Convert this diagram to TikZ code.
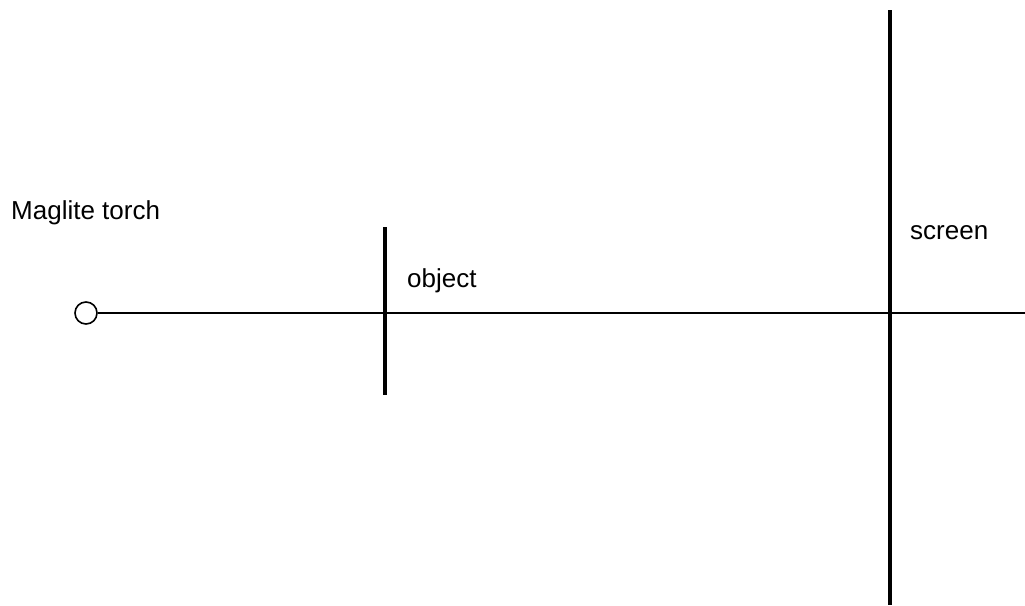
\documentclass[tikz,border=0pt]{standalone}
\usepackage{fontspec}
\setmainfont{Liberation Sans}
\begin{document}
\begin{tikzpicture}[x=1pt,y=-1pt,
  lbl/.style={anchor=base west,inner sep=0pt,font=\fontsize{26}{30}\selectfont},
  axis/.style={line width=1.6pt},
  bar/.style={line width=4.8pt}]
\useasboundingbox (0,0) rectangle (1025,605);
\node[circle,draw,line width=1.6pt,minimum size=22pt,inner sep=0pt] (torch) at (86,313) {};
\coordinate (end) at (1025,313);
\coordinate (objtop) at (385,227);
\coordinate (objbot) at (385,395);
\coordinate (scrtop) at (890,10);
\coordinate (scrbot) at (890,605);
\draw[axis] (torch.east) -- (end);
\draw[bar] (objtop) -- (objbot);
\draw[bar] (scrtop) -- (scrbot);
\node[lbl] (tl) at (11,219) {Maglite torch};
\node[lbl] (ol) at (407,287) {object};
\node[lbl] (sl) at (910,239) {screen};
\end{tikzpicture}
\end{document}
